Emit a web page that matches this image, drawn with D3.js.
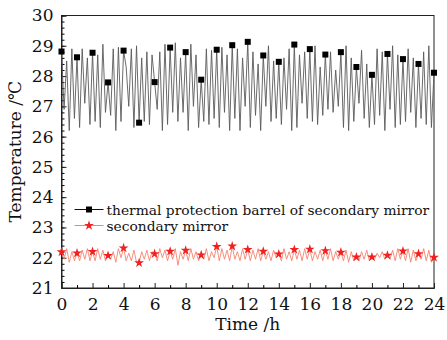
<!DOCTYPE html>
<html>
<head>
<meta charset="utf-8">
<script src="https://cdn.jsdelivr.net/npm/d3@7"></script>
<style>
  body { margin: 0; background: #fff; }
  text { font-family: "DejaVu Serif", serif; fill: #111; }
</style>
</head>
<body>
<script>
// ---- data ----
// hourly marker positions
const hours = d3.range(0, 25);

// barrel temperature, every 10 min (6 per hour)
const barrelTemp = [
  28.81, 26.9, 28.5, 26.2, 28.9, 26.6,
  28.62, 26.3, 28.9, 27.1, 28.6, 26.4,
  28.77, 26.5, 28.7, 26.3, 29.05, 26.8,
  27.79, 26.7, 28.9, 26.2, 28.95, 26.5,
  28.84, 28.3, 27.0, 28.9, 26.3, 29.0,
  26.46, 28.6, 26.5, 28.8, 26.4, 28.7,
  27.80, 26.9, 28.8, 26.2, 29.05, 26.4,
  28.94, 26.8, 29.1, 26.5, 28.6, 26.8,
  28.79, 26.2, 29.05, 27.0, 28.7, 26.3,
  27.88, 26.5, 28.9, 26.4, 28.85, 26.6,
  28.87, 26.3, 28.95, 26.8, 28.7, 26.2,
  29.02, 26.6, 28.9, 26.2, 28.6, 27.0,
  29.13, 26.3, 28.8, 26.7, 28.4, 26.2,
  28.68, 27.0, 29.0, 26.5, 28.5, 26.6,
  28.47, 26.4, 28.6, 26.9, 28.9, 26.2,
  29.04, 26.3, 28.7, 27.1, 28.8, 26.6,
  28.89, 26.5, 29.0, 26.4, 28.3, 26.7,
  28.71, 26.9, 28.8, 26.8, 28.2, 27.0,
  28.79, 26.3, 29.0, 26.2, 28.6, 26.5,
  28.30, 27.1, 28.85, 26.6, 28.4, 26.3,
  28.04, 26.4, 28.9, 26.7, 28.8, 26.2,
  28.73, 26.9, 29.0, 26.3, 28.7, 26.4,
  28.56, 26.5, 28.9, 26.8, 28.6, 26.3,
  28.40, 26.6, 28.8, 26.4, 29.0, 26.3,
  28.11
];

// secondary mirror temperature, same sampling
const mirrorTemp = [
  22.19, 21.95, 22.3, 21.85, 22.2, 21.9,
  22.15, 21.9, 22.25, 21.95, 22.3, 21.9,
  22.20, 21.9, 22.3, 21.95, 22.25, 21.9,
  22.07, 21.95, 22.2, 21.85, 22.3, 22.0,
  22.32, 21.9, 22.15, 21.9, 22.25, 21.85,
  21.83, 22.2, 21.95, 22.25, 21.9, 22.2,
  22.13, 21.9, 22.3, 22.0, 22.25, 21.9,
  22.21, 21.95, 22.3, 21.75, 22.2, 21.95,
  22.24, 21.9, 22.3, 21.95, 22.2, 21.9,
  22.09, 21.95, 22.3, 21.9, 22.2, 22.0,
  22.37, 21.9, 22.3, 21.95, 22.25, 21.9,
  22.38, 21.95, 22.2, 21.9, 22.3, 21.95,
  22.27, 21.9, 22.25, 21.95, 22.3, 21.9,
  22.21, 21.95, 22.2, 21.9, 22.25, 22.0,
  22.12, 21.9, 22.3, 21.95, 22.2, 21.9,
  22.27, 21.95, 22.25, 21.9, 22.3, 21.95,
  22.28, 21.9, 22.2, 21.95, 22.25, 21.9,
  22.23, 21.95, 22.3, 21.9, 22.2, 21.95,
  22.18, 21.9, 22.25, 21.85, 22.2, 21.9,
  22.02, 21.9, 22.2, 21.95, 22.25, 21.9,
  22.02, 21.95, 22.15, 22.0, 22.2, 21.95,
  22.08, 21.95, 22.25, 21.9, 22.3, 21.95,
  22.22, 21.9, 22.3, 21.85, 22.25, 21.9,
  22.13, 21.95, 22.3, 21.9, 22.25, 21.85,
  22.01
];

const xTicks = [0, 2, 4, 6, 8, 10, 12, 14, 16, 18, 20, 22, 24];
const yTicks = [21, 22, 23, 24, 25, 26, 27, 28, 29, 30];
const seriesNames = ["thermal protection barrel of secondary mirror", "secondary mirror"];

// ---- layout ----
const W = 447, H = 340;
const margin = {top: 15.5, right: 13, bottom: 52, left: 61.5};
const width = W - margin.left - margin.right,
      height = H - margin.top - margin.bottom;

const svg = d3.select("body").append("svg")
  .attr("width", W).attr("height", H);
const g = svg.append("g")
  .attr("transform", "translate(" + margin.left + "," + margin.top + ")");

const x = d3.scaleLinear().domain([0, 24]).range([0, width]);
const y = d3.scaleLinear().domain([21, 30]).range([height, 0]);

const step = 1 / 6;
const toPts = arr => arr.map((v, i) => [i * step, v]);
const line = d3.line().x(d => x(d[0])).y(d => y(d[1]));

// frame
g.append("rect").attr("width", width).attr("height", height)
  .attr("fill", "none").attr("stroke", "#222").attr("stroke-width", 1);

// minor ticks
g.append("g").call(d3.axisLeft(y).tickValues(d3.range(21, 30.01, 0.2)).tickSize(-3).tickFormat(""))
  .call(a => a.select(".domain").remove());
g.append("g").attr("transform", "translate(0," + height + ")")
  .call(d3.axisBottom(x).tickValues(d3.range(1, 24, 2)).tickSize(-3).tickFormat(""))
  .call(a => a.select(".domain").remove());

// major axes
const yAxis = g.append("g")
  .call(d3.axisLeft(y).tickValues(yTicks).tickSize(-5).tickPadding(8));
const xAxis = g.append("g").attr("transform", "translate(0," + height + ")")
  .call(d3.axisBottom(x).tickValues(xTicks).tickSize(-5).tickPadding(10));
[yAxis, xAxis].forEach(a => {
  a.selectAll("text").style("font-size", "17px").attr("fill", "#111");
  a.selectAll("line").attr("stroke", "#222");
  a.select(".domain").attr("stroke", "#222");
});

// lines
g.append("path").datum(toPts(barrelTemp))
  .attr("fill", "none").attr("stroke", "#5a5a5a").attr("stroke-width", 0.9)
  .attr("d", line);
g.append("path").datum(toPts(mirrorTemp))
  .attr("fill", "none").attr("stroke", "#f5836f").attr("stroke-width", 0.9)
  .attr("d", line);

// markers
const sq = d3.symbol().type(d3.symbolSquare).size(36);
const star = d3.symbol().type(d3.symbolStar).size(30);
g.selectAll(".sq").data(hours).enter().append("path")
  .attr("class", "sq")
  .attr("transform", h => "translate(" + x(h) + "," + y(barrelTemp[h * 6]) + ")")
  .attr("d", sq).attr("fill", "#000");
g.selectAll(".st").data(hours).enter().append("path")
  .attr("class", "st")
  .attr("transform", h => "translate(" + x(h) + "," + y(mirrorTemp[h * 6]) + ")")
  .attr("d", star).attr("fill", "#f22020");

// legend
const legend = g.append("g").attr("transform", "translate(13,194)");
const legendStyle = [
  {stroke: "#111", sym: sq, fill: "#000"},
  {stroke: "#f5836f", sym: star, fill: "#f22020"}
];
seriesNames.forEach((name, i) => {
  const row = legend.append("g").attr("transform", "translate(0," + (i * 16) + ")");
  row.append("line").attr("x1", 0).attr("x2", 29).attr("y1", 0).attr("y2", 0)
    .attr("stroke", legendStyle[i].stroke).attr("stroke-width", 1);
  row.append("path").attr("transform", "translate(14.5,0)")
    .attr("d", legendStyle[i].sym).attr("fill", legendStyle[i].fill);
  row.append("text").attr("x", 32).attr("y", 5)
    .style("font-size", "13.8px").text(name);
});

// axis titles
svg.append("text")
  .attr("x", margin.left + width / 2).attr("y", 330)
  .attr("text-anchor", "middle").style("font-size", "17px")
  .text("Time /h");
svg.append("text")
  .attr("transform", "translate(21," + (margin.top + height / 2) + ") rotate(-90)")
  .attr("text-anchor", "middle").style("font-size", "17px")
  .text("Temperature /℃");
</script>
</body>
</html>
